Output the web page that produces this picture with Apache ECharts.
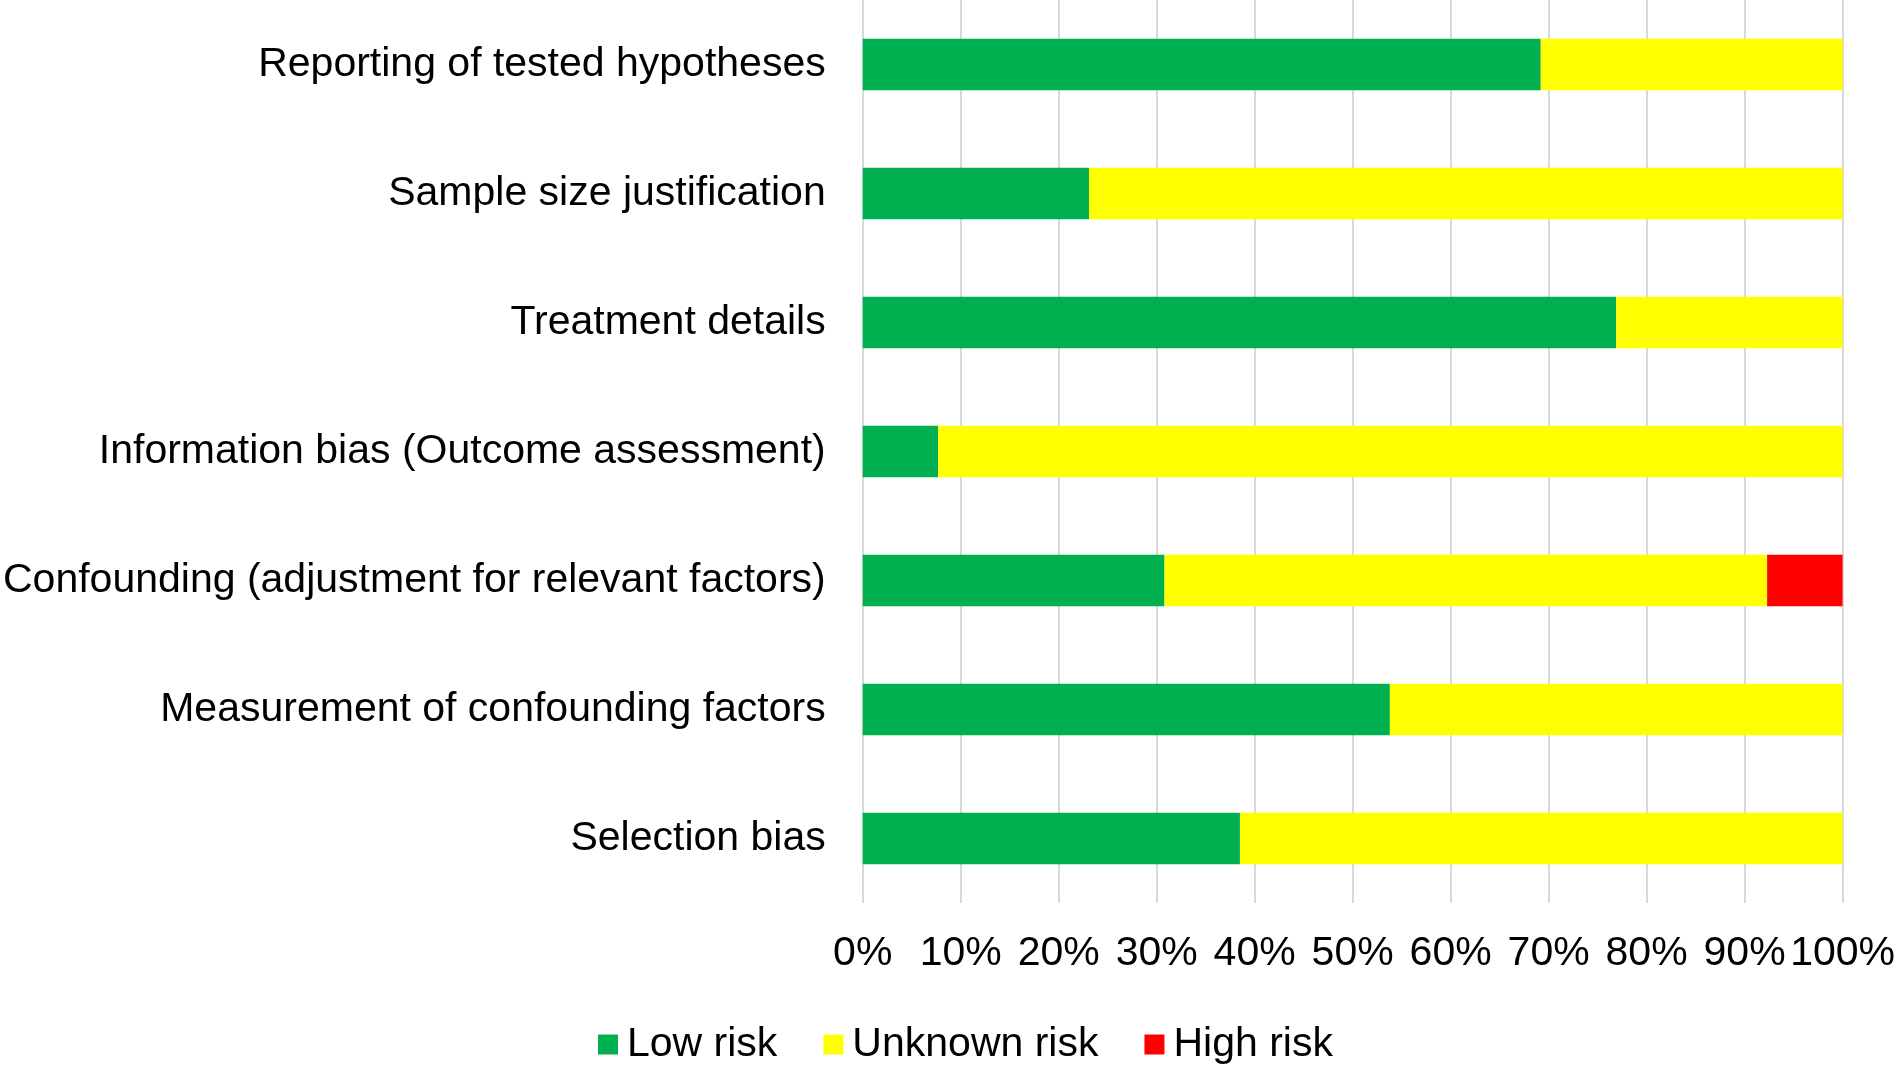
<!DOCTYPE html>
<html>
<head>
<meta charset="utf-8">
<script src="https://cdn.jsdelivr.net/npm/echarts@6/dist/echarts.min.js"></script>
<style>
html,body{margin:0;padding:0;background:#fff;}
#chart{width:1898px;height:1069px;}
</style>
</head>
<body>
<div id="chart"></div>
<script>
const categories = [
  "Reporting of tested hypotheses",
  "Sample size justification",
  "Treatment details",
  "Information bias (Outcome assessment)",
  "Confounding (adjustment for relevant factors)",
  "Measurement of confounding factors",
  "Selection bias"
];
const lowRisk = [69.2, 23.1, 76.9, 7.7, 30.8, 53.8, 38.5];
const unknownRisk = [30.8, 76.9, 23.1, 92.3, 61.5, 46.2, 61.5];
const highRisk = [0, 0, 0, 0, 7.7, 0, 0];
const seriesNames = ["Low risk", "Unknown risk", "High risk"];
const colors = ["#00b050", "#ffff00", "#ff0000"];

const chart = echarts.init(document.getElementById('chart'));
const font = "'Liberation Sans', Arial, sans-serif";
chart.setOption({
  animation: false,
  textStyle: {fontFamily: font},
  grid: {left: 861, right: 54, top: 0, bottom: 166, containLabel: false},
  legend: {
    data: seriesNames,
    left: 593,
    top: 1019,
    itemWidth: 20,
    itemHeight: 20,
    itemGap: 46,
    icon: 'rect',
    textStyle: {fontSize: 41, color: '#000', fontFamily: font, padding: [0, 0, 0, 4]}
  },
  xAxis: {
    type: 'value',
    min: 0,
    max: 100,
    interval: 10,
    axisLine: {show: false},
    axisTick: {show: false},
    axisLabel: {formatter: '{value}%', fontSize: 41, color: '#000', margin: 30, fontFamily: font},
    splitLine: {show: true, lineStyle: {color: '#d9d9d9', width: 2}}
  },
  yAxis: {
    type: 'category',
    data: categories,
    inverse: true,
    axisLine: {show: false},
    axisTick: {show: false},
    axisLabel: {fontSize: 41, color: '#000', margin: 37, fontFamily: font}
  },
  series: seriesNames.map((name, i) => ({
    name: name,
    type: 'bar',
    stack: 'total',
    barCategoryGap: '60%',
    itemStyle: {color: colors[i]},
    data: [lowRisk, unknownRisk, highRisk][i]
  }))
});
</script>
</body>
</html>
